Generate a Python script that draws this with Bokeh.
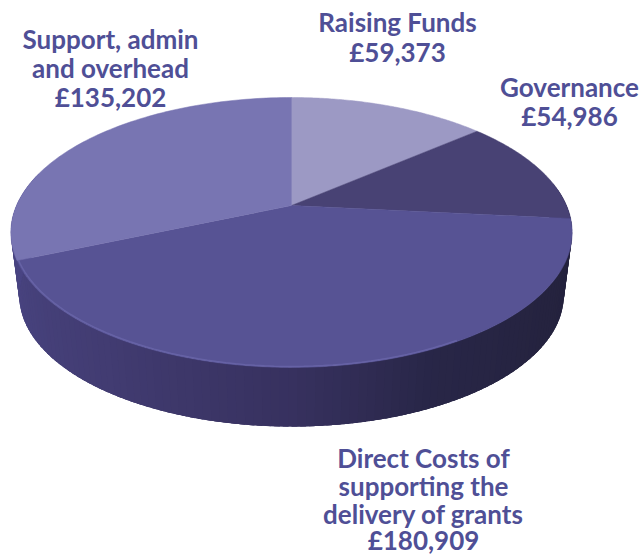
import numpy as np
from bokeh.plotting import figure
from bokeh.models import Range1d, ColumnDataSource
from bokeh.embed import file_html
from bokeh.resources import INLINE

categories = ["Raising Funds", "Governance", "Direct Costs", "Support"]
values = [59373, 54986, 180909, 135202]
face_colors = ["#9c99c4", "#484274", "#575394", "#7875b2"]
label_lines = [
    "Raising Funds", "£59,373",
    "Governance", "£54,986",
    "Direct Costs of", "supporting the", "delivery of grants", "£180,909",
    "Support, admin", "and overhead", "£135,202",
]
label_x = [397, 397, 569, 569, 423, 423, 423, 423, 110, 110, 110]
label_y = [21, 51, 86, 115, 457, 485, 513, 539, 38, 67, 96]
side_stops_deg = [88, 125, 155, 180, 215, 250, 275]
side_stop_colors = ["#23213c", "#25233f", "#282647", "#37315f", "#423c72", "#48437f", "#4a4585"]

CX, CY, R, K, C = 291, 205, 275, 129.6, 0.2
DEPTH, SCALE = 64, 0.97


def project(theta, scale=1.0, dz=0.0, radius=1.0):
    u, v = radius * np.sin(theta), radius * np.cos(theta)
    d = 1 + C * v
    return CX + scale * R * u / d, CY + dz - scale * K * v / d


def rgb(h):
    return np.array([int(h[i:i + 2], 16) for i in (1, 3, 5)], float)


def shade(deg):
    ch = [np.interp(deg, side_stops_deg, [rgb(c)[i] for c in side_stop_colors]) for i in range(3)]
    return "#%02x%02x%02x" % tuple(int(round(c)) for c in ch)


p = figure(width=640, height=554, output_backend="svg", toolbar_location=None,
           x_range=Range1d(0, 640), y_range=Range1d(554, 0), min_border=0)
p.axis.visible = False
p.grid.visible = False
p.outline_line_color = None
p.background_fill_color = "white"
p.border_fill_color = "white"

# side wall: each strip overlaps its neighbours so no seams show
edges = np.arange(80, 283, 1.5)
xs, ys, cols = [], [], []
for a, b in zip(edges[:-1], edges[1:]):
    t = np.radians(np.array([a, b + 2.5]))
    x1, y1 = project(t)
    x2, y2 = project(t[::-1], SCALE, DEPTH)
    xs.append(list(x1) + list(x2))
    ys.append(list(y1) + list(y2))
    cols.append(shade((a + b) / 2))
p.patches(xs, ys, fill_color=cols, line_color=None)

# top faces
total = sum(values)
start = 0.0
wedge_x, wedge_y = [], []
for val in values:
    end = start + val / total * 2 * np.pi
    t = np.linspace(start, end, 90)
    x, y = project(t)
    wedge_x.append([CX] + list(x))
    wedge_y.append([CY] + list(y))
    start = end
p.patches(wedge_x, wedge_y, fill_color=face_colors, line_color=face_colors, line_width=0.5)

# soft highlight on the front-left rim
t = np.radians(np.linspace(150, 247, 60))
x, y = project(t, radius=0.995)
p.line(x, y, line_color="#6a66aa", line_width=1.5, line_alpha=0.8)

src = ColumnDataSource(dict(x=label_x, y=label_y, text=label_lines))
p.text("x", "y", text="text", source=src, text_align="center", text_baseline="middle",
       text_font={"value": "Lato"}, text_font_style="bold", text_font_size="26px",
       text_color="#4f4f96")

open("out.html", "w").write(file_html(p, INLINE))
